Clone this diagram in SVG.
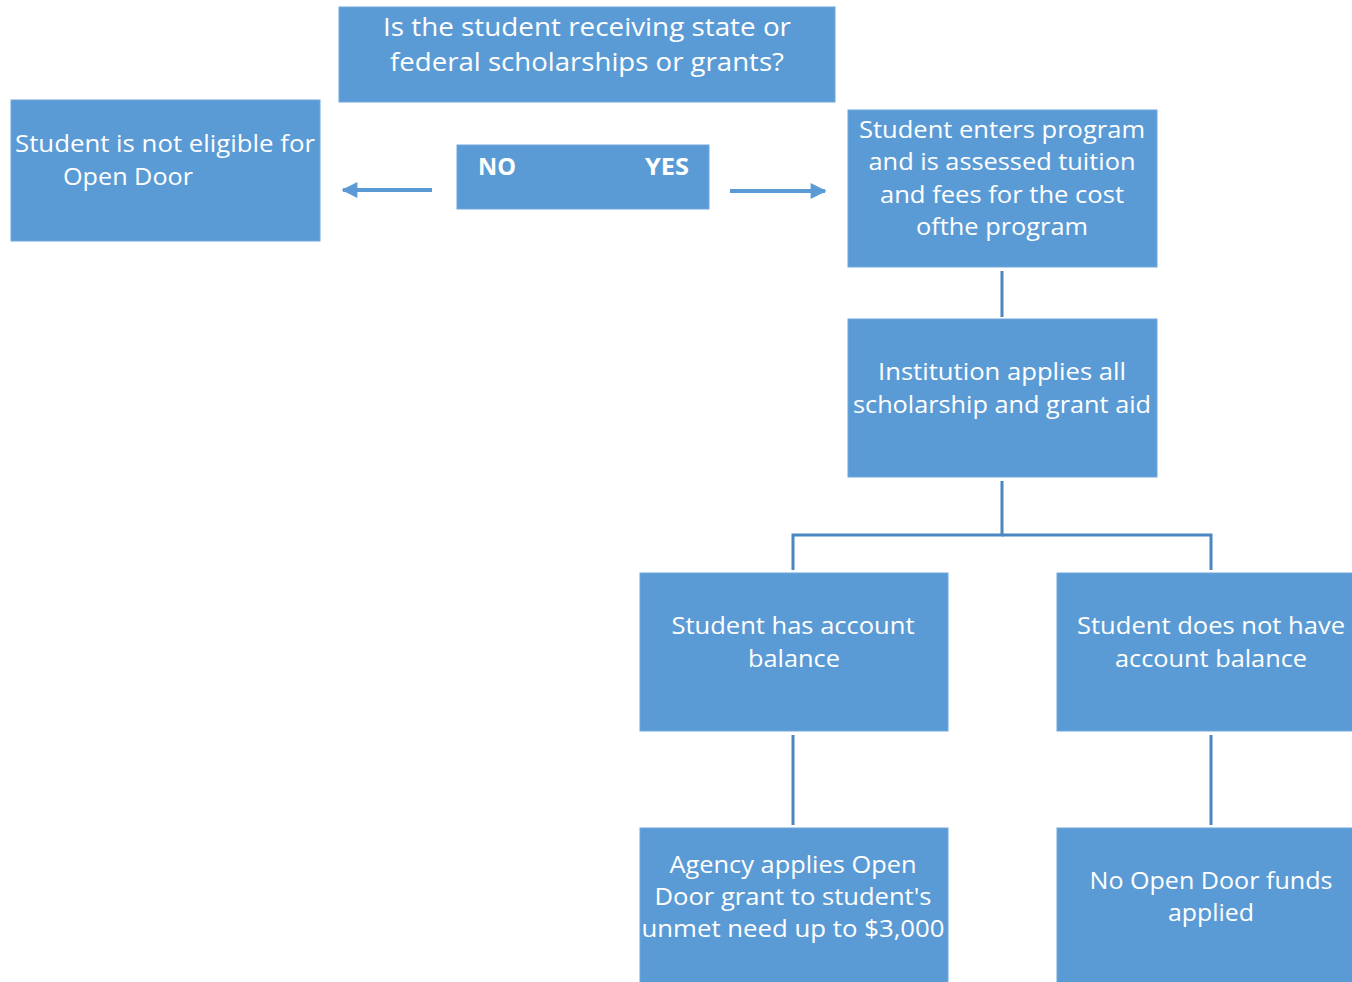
<svg xmlns="http://www.w3.org/2000/svg" width="1352" height="982" viewBox="0 0 1352 982">
<defs>
<style>
.box{fill:#5B9BD5;stroke:#6FA8DC;stroke-width:1}
.t{fill:#FFFFFF;font-family:"Open Sans","Liberation Sans",sans-serif;font-size:24px;text-anchor:middle}
.tl{fill:#FFFFFF;font-family:"Open Sans","Liberation Sans",sans-serif;font-size:24px}
.big{font-size:26px}
.b{font-weight:bold;font-size:23px}
.ln{stroke:#4A86C0;stroke-width:3;fill:none}
.ar{stroke:#5B9BD5;stroke-width:4;fill:none}
</style>
<marker id="ah" viewBox="0 0 10 10" refX="9" refY="5" markerWidth="4.5" markerHeight="4" orient="auto" markerUnits="strokeWidth">
<path d="M0,0 L10,5 L0,10 z" fill="#5B9BD5"/>
</marker>
</defs>
<rect width="1352" height="982" fill="#FFFFFF"/>
<g id="connectors">
<line class="ar" x1="432" y1="190" x2="343" y2="190" marker-end="url(#ah)"/>
<line class="ar" x1="730" y1="191" x2="825" y2="191" marker-end="url(#ah)"/>
<line class="ln" x1="1002" y1="271" x2="1002" y2="317"/>
<polyline class="ln" points="1002,481 1002,535 793,535 793,570"/>
<polyline class="ln" points="1002,535 1211,535 1211,570"/>
<line class="ln" x1="793" y1="735" x2="793" y2="825"/>
<line class="ln" x1="1211" y1="735" x2="1211" y2="825"/>
</g>
<g id="question">
<rect class="box" x="339" y="7" width="496" height="95"/>
<text class="t big" x="587" y="36" textLength="408" lengthAdjust="spacingAndGlyphs">Is the student receiving state or</text>
<text class="t big" x="587" y="71" textLength="394" lengthAdjust="spacingAndGlyphs">federal scholarships or grants?</text>
</g>
<g id="not-eligible">
<rect class="box" x="11" y="100" width="309" height="141"/>
<text class="tl" x="15" y="152" textLength="300" lengthAdjust="spacingAndGlyphs">Student is not eligible for</text>
<text class="tl" x="63" y="185" textLength="130" lengthAdjust="spacingAndGlyphs">Open Door</text>
</g>
<g id="no-yes">
<rect class="box" x="457" y="145" width="252" height="64"/>
<text class="tl b" x="478" y="175" textLength="38" lengthAdjust="spacingAndGlyphs">NO</text>
<text class="tl b" x="645" y="175" textLength="44" lengthAdjust="spacingAndGlyphs">YES</text>
</g>
<g id="enters-program">
<rect class="box" x="848" y="110" width="309" height="157"/>
<text class="t" x="1002" y="138" textLength="286" lengthAdjust="spacingAndGlyphs">Student enters program</text>
<text class="t" x="1002" y="170" textLength="267" lengthAdjust="spacingAndGlyphs">and is assessed tuition</text>
<text class="t" x="1002" y="203" textLength="244" lengthAdjust="spacingAndGlyphs">and fees for the cost</text>
<text class="t" x="1002" y="235" textLength="172" lengthAdjust="spacingAndGlyphs">ofthe program</text>
</g>
<g id="institution">
<rect class="box" x="848" y="319" width="309" height="158"/>
<text class="t" x="1002" y="380" textLength="248" lengthAdjust="spacingAndGlyphs">Institution applies all</text>
<text class="t" x="1002" y="413" textLength="298" lengthAdjust="spacingAndGlyphs">scholarship and grant aid</text>
</g>
<g id="has-balance">
<rect class="box" x="640" y="573" width="308" height="158"/>
<text class="t" x="793" y="634" textLength="243" lengthAdjust="spacingAndGlyphs">Student has account</text>
<text class="t" x="794" y="667" textLength="92" lengthAdjust="spacingAndGlyphs">balance</text>
</g>
<g id="no-balance">
<rect class="box" x="1057" y="573" width="296" height="158"/>
<text class="t" x="1211" y="634" textLength="268" lengthAdjust="spacingAndGlyphs">Student does not have</text>
<text class="t" x="1211" y="667" textLength="192" lengthAdjust="spacingAndGlyphs">account balance</text>
</g>
<g id="agency-applies">
<rect class="box" x="640" y="828" width="308" height="155"/>
<text class="t" x="793" y="873" textLength="247" lengthAdjust="spacingAndGlyphs">Agency applies Open</text>
<text class="t" x="793" y="905" textLength="277" lengthAdjust="spacingAndGlyphs">Door grant to student's</text>
<text class="t" x="793" y="937" textLength="303" lengthAdjust="spacingAndGlyphs">unmet need up to $3,000</text>
</g>
<g id="no-funds">
<rect class="box" x="1057" y="828" width="296" height="155"/>
<text class="t" x="1211" y="889" textLength="243" lengthAdjust="spacingAndGlyphs">No Open Door funds</text>
<text class="t" x="1211" y="921" textLength="86" lengthAdjust="spacingAndGlyphs">applied</text>
</g>
</svg>
